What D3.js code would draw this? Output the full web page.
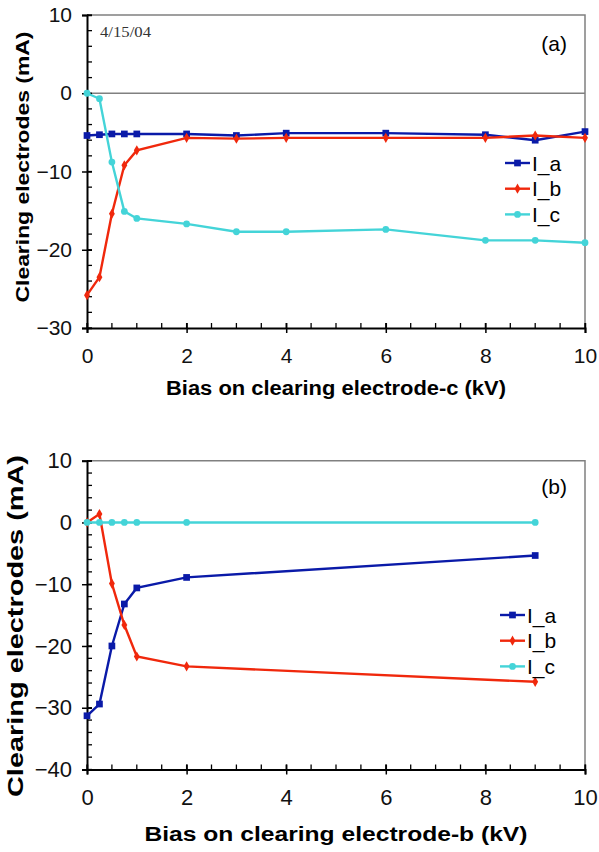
<!DOCTYPE html>
<meta charset="utf-8">
<script src="https://d3js.org/d3.v7.min.js"></script>
<style>
  body { margin: 0; background: #fff; }
  text { font-family: "Liberation Sans", Arial, sans-serif; }
</style>
<div id="chart"></div>
<script>
// (a) bias on electrode-c
var xA = [0, 0.25, 0.5, 0.75, 1, 2, 3, 4, 6, 8, 9, 10];
var aIa = [-5.4, -5.3, -5.2, -5.2, -5.2, -5.2, -5.4, -5.1, -5.1, -5.3, -6.0, -4.9];
var aIb = [-25.8, -23.5, -15.4, -9.2, -7.3, -5.7, -5.8, -5.7, -5.7, -5.7, -5.4, -5.7];
var aIc = [0, -0.7, -8.8, -15.1, -16.0, -16.7, -17.7, -17.7, -17.4, -18.8, -18.8, -19.1];

// (b) bias on electrode-b
var xB = [0, 0.25, 0.5, 0.75, 1, 2, 9];
var bIa = [-31.3, -29.4, -20.0, -13.2, -10.6, -8.9, -5.35];
var bIb = [0, 1.35, -9.9, -16.6, -21.7, -23.3, -25.8];
var bIc = [0, 0, 0, 0, 0, 0, 0];

var seriesNames = ["I_a", "I_b", "I_c"];
var colors = ["#0a1aa8", "#f0280c", "#44d4d8"];
var shapes = [d3.symbolSquare, d3.symbolDiamond, d3.symbolCircle];
var sizes = [45, 30, 36];

var svg = d3.select("#chart").append("svg")
  .attr("width", 599).attr("height", 852);

function panel(opt) {
  var x = d3.scaleLinear().domain([0, 10]).range([87, 585]);
  var y = d3.scaleLinear().domain(opt.yDomain).range(opt.yRange);
  var g = svg.append("g");

  // frame (top and right)
  g.append("path")
    .attr("d", "M" + x(0) + "," + y.range()[1] + "H" + x(10) + "V" + y.range()[0])
    .attr("fill", "none").attr("stroke", "#808080").attr("stroke-width", 1.5);
  if (opt.zeroLine) {
    g.append("line")
      .attr("x1", x(0)).attr("x2", x(10)).attr("y1", y(0)).attr("y2", y(0))
      .attr("stroke", "#808080").attr("stroke-width", 1.3);
  }

  // minor ticks (inside)
  var minorX = d3.range(0, 10.01, 0.5);
  g.selectAll(".mx").data(minorX).enter().append("line")
    .attr("x1", x).attr("x2", x)
    .attr("y1", y.range()[0]).attr("y2", y.range()[0] - 5)
    .attr("stroke", "#000").attr("stroke-width", 1.3);
  var minorY = d3.range(opt.yDomain[0], opt.yDomain[1] + 0.01, 2);
  g.selectAll(".my").data(minorY).enter().append("line")
    .attr("y1", y).attr("y2", y)
    .attr("x1", x(0)).attr("x2", x(0) + 5)
    .attr("stroke", "#000").attr("stroke-width", 1.3);

  // axes
  var xAxis = g.append("g")
    .attr("transform", "translate(0," + y.range()[0] + ")")
    .call(d3.axisBottom(x).tickValues(d3.range(0, 11, 2)).tickSize(5).tickPadding(15));
  xAxis.selectAll(".tick line").attr("y1", -5).attr("y2", 5);
  var yAxis = g.append("g")
    .attr("transform", "translate(" + x(0) + ",0)")
    .call(d3.axisLeft(y).tickValues(opt.yTicks).tickSize(5).tickPadding(10));
  yAxis.selectAll(".tick line").attr("x1", -5).attr("x2", 5);
  [xAxis, yAxis].forEach(function (a) {
    a.select(".domain").attr("stroke-width", 2);
    a.selectAll(".tick line").attr("stroke-width", 1.5);
    a.selectAll("text").attr("font-size", opt.tickFont).attr("fill", "#111")
      .style("font-family", "'Liberation Sans', Arial, sans-serif");
  });

  // titles
  g.append("text")
    .attr("x", 336).attr("y", opt.xTitleY)
    .attr("text-anchor", "middle").attr("font-size", 19.5).attr("font-weight", "bold")
    .attr("textLength", opt.xTitleLen).attr("lengthAdjust", "spacingAndGlyphs")
    .text(opt.xTitle);
  g.append("text")
    .attr("transform", "translate(" + opt.yTitleX + "," + opt.yTitleMid + ") rotate(-90)")
    .attr("text-anchor", "middle").attr("font-size", opt.yTitleFont).attr("font-weight", "bold")
    .attr("textLength", opt.yTitleLen).attr("lengthAdjust", "spacingAndGlyphs")
    .text("Clearing electrodes (mA)");
  g.append("text")
    .attr("x", 567).attr("y", opt.tagY)
    .attr("text-anchor", "end").attr("font-size", 21)
    .text(opt.tag);

  // series
  var line = d3.line().x(function (d) { return x(d[0]); }).y(function (d) { return y(d[1]); });
  opt.series.forEach(function (vals, i) {
    var pts = opt.xs.map(function (v, j) { return [v, vals[j]]; });
    g.append("path").datum(pts)
      .attr("d", line).attr("fill", "none")
      .attr("stroke", colors[i]).attr("stroke-width", 2.4);
    g.selectAll(".m" + i).data(pts).enter().append("path")
      .attr("d", d3.symbol().type(shapes[i]).size(sizes[i]))
      .attr("transform", function (d) { return "translate(" + x(d[0]) + "," + y(d[1]) + ")"; })
      .attr("fill", colors[i]);
  });

  // legend
  seriesNames.forEach(function (name, i) {
    var ly = opt.legendY + i * 25.7;
    var lg = g.append("g");
    lg.append("line").attr("x1", opt.legendX).attr("x2", opt.legendX + 25)
      .attr("y1", ly).attr("y2", ly).attr("stroke", colors[i]).attr("stroke-width", 2.4);
    lg.append("path").attr("d", d3.symbol().type(shapes[i]).size(sizes[i]))
      .attr("transform", "translate(" + (opt.legendX + 12.5) + "," + ly + ")")
      .attr("fill", colors[i]);
    lg.append("text").attr("x", opt.legendX + 27).attr("y", ly + 7.5)
      .attr("font-size", 21).text(name);
  });
}

panel({
  yDomain: [-30, 10], yRange: [328, 15], yTicks: [-30, -20, -10, 0, 10],
  xs: xA, series: [aIa, aIb, aIc], zeroLine: true, tickFont: 21,
  xTitle: "Bias on clearing electrode-c (kV)", xTitleY: 395, xTitleLen: 340,
  yTitleX: 29, yTitleMid: 167, yTitleLen: 271, yTitleFont: 19,
  tag: "(a)", tagY: 51,
  legendX: 505, legendY: 163
});
panel({
  yDomain: [-40, 10], yRange: [769.5, 460.7], yTicks: [-40, -30, -20, -10, 0, 10],
  xs: xB, series: [bIa, bIb, bIc], zeroLine: false, tickFont: 22,
  xTitle: "Bias on clearing electrode-b (kV)", xTitleY: 841, xTitleLen: 383,
  yTitleX: 23, yTitleMid: 626, yTitleLen: 342, yTitleFont: 22,
  tag: "(b)", tagY: 494,
  legendX: 500, legendY: 615
});

svg.append("text")
  .attr("x", 100).attr("y", 37)
  .attr("font-size", 14).style("font-family", "'Liberation Serif', 'Times New Roman', serif")
  .attr("fill", "#333")
  .attr("textLength", 51).attr("lengthAdjust", "spacingAndGlyphs")
  .text("4/15/04");
</script>
